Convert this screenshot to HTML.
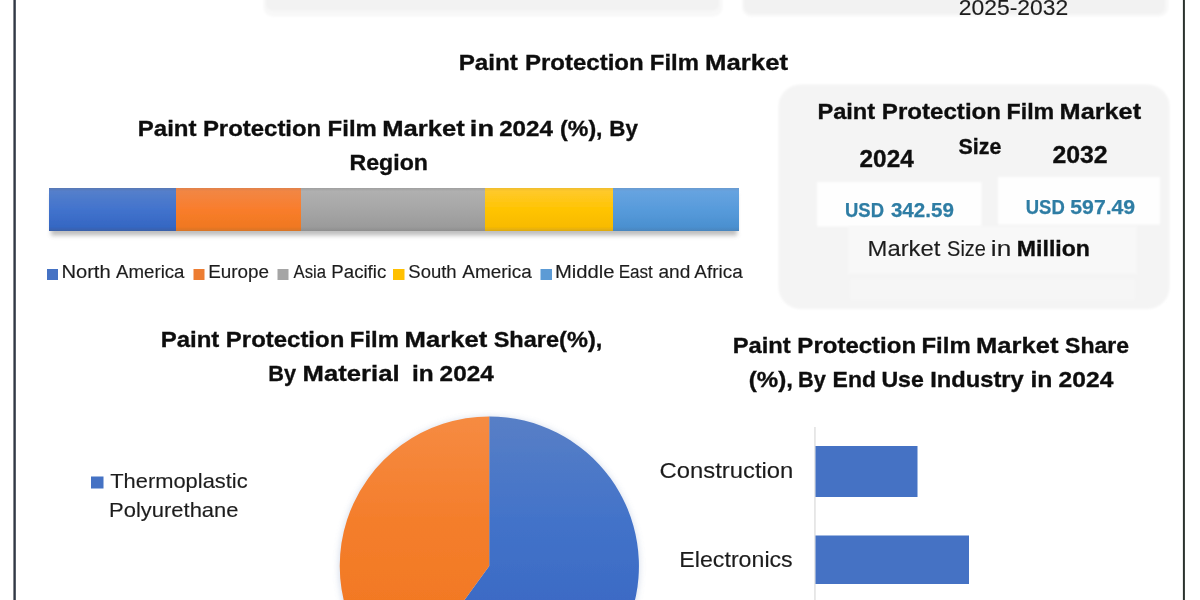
<!DOCTYPE html>
<html>
<head>
<meta charset="utf-8">
<title>Paint Protection Film Market</title>
<style>
html,body{margin:0;padding:0;background:#fff;}
body{width:1200px;height:600px;overflow:hidden;font-family:"Liberation Sans",sans-serif;}
svg{display:block;}
text{font-family:"Liberation Sans",sans-serif;}
.b{font-weight:bold;fill:#111;stroke:#111;stroke-width:0.35px;}
.r{font-weight:normal;fill:#1e1e1e;stroke:#1e1e1e;stroke-width:0.15px;}
.u{font-weight:bold;fill:#2e7da4;stroke:#2e7da4;stroke-width:0.25px;}
</style>
</head>
<body>
<svg width="1200" height="600" viewBox="0 0 1200 600">
  <defs>
    <filter id="sh" x="-5%" y="-20%" width="110%" height="160%">
      <feGaussianBlur stdDeviation="2.2"/>
    </filter>
    <filter id="sh2" x="-10%" y="-10%" width="120%" height="120%">
      <feGaussianBlur stdDeviation="3"/>
    </filter>
    <filter id="gl" x="0" y="0" width="1200" height="600" filterUnits="userSpaceOnUse">
      <feGaussianBlur stdDeviation="0.4"/>
    </filter>
    <filter id="soft" x="-5%" y="-5%" width="110%" height="110%">
      <feGaussianBlur stdDeviation="1.2"/>
    </filter>
    <linearGradient id="gBlue" x1="0" y1="0" x2="0" y2="1">
      <stop offset="0" stop-color="#5a78b4"/><stop offset="0.08" stop-color="#547fcb"/><stop offset="0.5" stop-color="#4273cd"/><stop offset="0.9" stop-color="#3567c3"/><stop offset="1" stop-color="#3a60a8"/>
    </linearGradient>
    <linearGradient id="gOrange" x1="0" y1="0" x2="0" y2="1">
      <stop offset="0" stop-color="#e0824c"/><stop offset="0.08" stop-color="#f28643"/><stop offset="0.5" stop-color="#f97d2c"/><stop offset="0.9" stop-color="#f07820"/><stop offset="1" stop-color="#d67428"/>
    </linearGradient>
    <linearGradient id="gGray" x1="0" y1="0" x2="0" y2="1">
      <stop offset="0" stop-color="#a0a0a0"/><stop offset="0.08" stop-color="#b0b0b0"/><stop offset="0.5" stop-color="#a6a6a6"/><stop offset="0.9" stop-color="#9b9b9b"/><stop offset="1" stop-color="#8e8e8e"/>
    </linearGradient>
    <linearGradient id="gYellow" x1="0" y1="0" x2="0" y2="1">
      <stop offset="0" stop-color="#f0bd30"/><stop offset="0.08" stop-color="#ffc92a"/><stop offset="0.5" stop-color="#ffc400"/><stop offset="0.9" stop-color="#f8bb00"/><stop offset="1" stop-color="#dca910"/>
    </linearGradient>
    <linearGradient id="gLBlue" x1="0" y1="0" x2="0" y2="1">
      <stop offset="0" stop-color="#6a9bd0"/><stop offset="0.08" stop-color="#66a3e0"/><stop offset="0.5" stop-color="#579bdb"/><stop offset="0.9" stop-color="#4b90d0"/><stop offset="1" stop-color="#4a85bd"/>
    </linearGradient>
    <linearGradient id="pBlue" gradientUnits="userSpaceOnUse" x1="0" y1="416" x2="0" y2="620">
      <stop offset="0" stop-color="#587fc6"/><stop offset="0.5" stop-color="#4373c9"/><stop offset="1" stop-color="#3a69c4"/>
    </linearGradient>
    <linearGradient id="pOrange" gradientUnits="userSpaceOnUse" x1="0" y1="416" x2="0" y2="620">
      <stop offset="0" stop-color="#f68b42"/><stop offset="0.5" stop-color="#f47e2c"/><stop offset="1" stop-color="#f27822"/>
    </linearGradient>
    <clipPath id="page"><rect x="0" y="0" width="1200" height="600"/></clipPath>
  </defs>

  <rect x="0" y="0" width="1200" height="600" fill="#ffffff"/>
  <g filter="url(#gl)">

  <!-- frame borders -->
  <rect x="13.4" y="0" width="2.4" height="600" fill="#323944"/>
  <rect x="1182.9" y="0" width="2" height="600" fill="#2b302f"/>

  <!-- top cards (cut off) -->
  <g filter="url(#soft)">
    <rect x="263.5" y="-30" width="459" height="46.5" rx="9" fill="#f8f8f8"/>
    <rect x="266" y="-30" width="453" height="40.5" rx="6" fill="#f2f2f2"/>
    <rect x="742" y="-30" width="426.5" height="46.5" rx="9" fill="#f8f8f8"/>
    <rect x="744" y="-30" width="421" height="44" rx="7" fill="#f2f2f2"/>
  </g>

  <!-- main title -->

  <!-- right panel -->
  <g filter="url(#soft)">
    <rect x="778.5" y="84.5" width="391" height="224.5" rx="22" fill="#f4f4f4"/>
  </g>
  <rect x="817" y="182" width="164.5" height="44.5" fill="#fefefe" filter="url(#soft)"/>
  <rect x="998" y="177" width="162" height="47.5" fill="#fefefe" filter="url(#soft)"/>
  <rect x="848" y="226" width="289" height="48" fill="#f8f8f8" filter="url(#soft)"/>
  <rect x="850" y="279" width="285" height="21" fill="#f6f6f6" filter="url(#soft)"/>

  <!-- region chart title -->

  <!-- stacked bar -->
  <rect x="51" y="194" width="686" height="41.5" fill="#808080" opacity="0.5" filter="url(#sh)"/>
  <rect x="49" y="188" width="127" height="43" fill="url(#gBlue)"/>
  <rect x="176" y="188" width="125" height="43" fill="url(#gOrange)"/>
  <rect x="301" y="188" width="184" height="43" fill="url(#gGray)"/>
  <rect x="485" y="188" width="128" height="43" fill="url(#gYellow)"/>
  <rect x="613" y="188" width="126" height="43" fill="url(#gLBlue)"/>

  <!-- region legend -->
  <rect x="47" y="269" width="11" height="11" fill="#4472c4"/>
  <rect x="193.5" y="269" width="11" height="11" fill="#ed7d31"/>
  <rect x="277.5" y="269" width="11" height="11" fill="#a5a5a5"/>
  <rect x="393" y="269" width="11.5" height="11" fill="#ffc000"/>
  <rect x="540.5" y="269" width="11.5" height="11" fill="#5b9bd5"/>

  <!-- pie chart title -->

  <!-- pie -->
  <circle cx="489.2" cy="567" r="150.5" fill="#8aa0c8" opacity="0.35" filter="url(#sh2)"/>
  <path d="M489.2 566 L489.2 416.5 A149.6 149.6 0 1 1 401.27 687.03 Z" fill="url(#pBlue)"/>
  <path d="M489.2 566 L401.27 687.03 A149.6 149.6 0 0 1 489.2 416.5 Z" fill="url(#pOrange)"/>

  <!-- pie legend -->
  <rect x="91" y="476.5" width="12.5" height="12" fill="#4472c4"/>

  <!-- end-use bar chart title -->

  <!-- end-use bars -->
  <rect x="814.4" y="427" width="1.1" height="173" fill="#d6d6d6"/>
  <rect x="815.5" y="446" width="102" height="51" fill="#4472c4"/>
  <rect x="815.5" y="535.5" width="153.5" height="48.5" fill="#4472c4"/>
  <!-- text (per-word placement) -->
  <text class="r" x="958.87" y="15.00" font-size="22" textLength="109.39" lengthAdjust="spacingAndGlyphs">2025-2032</text>
  <text class="b" x="458.67" y="69.60" font-size="22.6" textLength="59.22" lengthAdjust="spacingAndGlyphs">Paint</text>
  <text class="b" x="524.91" y="69.60" font-size="22.6" textLength="118.77" lengthAdjust="spacingAndGlyphs">Protection</text>
  <text class="b" x="649.86" y="69.60" font-size="22.6" textLength="49.11" lengthAdjust="spacingAndGlyphs">Film</text>
  <text class="b" x="705.14" y="69.60" font-size="22.6" textLength="82.87" lengthAdjust="spacingAndGlyphs">Market</text>
  <text class="b" x="817.42" y="119.00" font-size="22.6" textLength="57.77" lengthAdjust="spacingAndGlyphs">Paint</text>
  <text class="b" x="881.87" y="119.00" font-size="22.6" textLength="119.19" lengthAdjust="spacingAndGlyphs">Protection</text>
  <text class="b" x="1006.50" y="119.00" font-size="22.6" textLength="47.73" lengthAdjust="spacingAndGlyphs">Film</text>
  <text class="b" x="1059.62" y="119.00" font-size="22.6" textLength="81.49" lengthAdjust="spacingAndGlyphs">Market</text>
  <text class="b" x="958.53" y="154.30" font-size="22.6" textLength="42.78" lengthAdjust="spacingAndGlyphs">Size</text>
  <text class="b" x="859.60" y="166.70" font-size="23.6" textLength="54.11" lengthAdjust="spacingAndGlyphs">2024</text>
  <text class="b" x="1052.44" y="163.00" font-size="23.6" textLength="55.21" lengthAdjust="spacingAndGlyphs">2032</text>
  <text class="u" x="845.02" y="216.80" font-size="19.6" textLength="38.96" lengthAdjust="spacingAndGlyphs">USD</text>
  <text class="u" x="890.93" y="216.80" font-size="19.6" textLength="62.91" lengthAdjust="spacingAndGlyphs">342.59</text>
  <text class="u" x="1025.78" y="213.50" font-size="19.6" textLength="39.02" lengthAdjust="spacingAndGlyphs">USD</text>
  <text class="u" x="1070.29" y="213.50" font-size="19.6" textLength="64.89" lengthAdjust="spacingAndGlyphs">597.49</text>
  <text class="r" x="867.58" y="256.00" font-size="21.5" textLength="72.82" lengthAdjust="spacingAndGlyphs">Market</text>
  <text class="r" x="947.07" y="256.00" font-size="21.5" textLength="38.84" lengthAdjust="spacingAndGlyphs">Size</text>
  <text class="r" x="990.89" y="256.00" font-size="21.5" textLength="20.42" lengthAdjust="spacingAndGlyphs">in</text>
  <text class="b" x="1016.88" y="256.00" font-size="21.5" textLength="73.08" lengthAdjust="spacingAndGlyphs">Million</text>
  <text class="b" x="137.80" y="136.40" font-size="22.6" textLength="58.74" lengthAdjust="spacingAndGlyphs">Paint</text>
  <text class="b" x="202.92" y="136.40" font-size="22.6" textLength="118.34" lengthAdjust="spacingAndGlyphs">Protection</text>
  <text class="b" x="327.62" y="136.40" font-size="22.6" textLength="49.22" lengthAdjust="spacingAndGlyphs">Film</text>
  <text class="b" x="382.25" y="136.40" font-size="22.6" textLength="82.44" lengthAdjust="spacingAndGlyphs">Market</text>
  <text class="b" x="469.89" y="136.40" font-size="22.6" textLength="24.24" lengthAdjust="spacingAndGlyphs">in</text>
  <text class="b" x="499.16" y="136.40" font-size="22.6" textLength="53.85" lengthAdjust="spacingAndGlyphs">2024</text>
  <text class="b" x="560.14" y="136.40" font-size="22.6" textLength="42.41" lengthAdjust="spacingAndGlyphs">(%),</text>
  <text class="b" x="609.29" y="136.40" font-size="22.6" textLength="28.56" lengthAdjust="spacingAndGlyphs">By</text>
  <text class="b" x="349.54" y="170.40" font-size="22.6" textLength="78.46" lengthAdjust="spacingAndGlyphs">Region</text>
  <text class="r" x="61.42" y="278.40" font-size="18" textLength="49.24" lengthAdjust="spacingAndGlyphs">North</text>
  <text class="r" x="116.04" y="278.40" font-size="18" textLength="68.46" lengthAdjust="spacingAndGlyphs">America</text>
  <text class="r" x="208.15" y="278.40" font-size="18" textLength="60.92" lengthAdjust="spacingAndGlyphs">Europe</text>
  <text class="r" x="293.50" y="278.40" font-size="18" textLength="32.50" lengthAdjust="spacingAndGlyphs">Asia</text>
  <text class="r" x="331.38" y="278.40" font-size="18" textLength="54.86" lengthAdjust="spacingAndGlyphs">Pacific</text>
  <text class="r" x="408.32" y="278.40" font-size="18" textLength="48.31" lengthAdjust="spacingAndGlyphs">South</text>
  <text class="r" x="462.36" y="278.40" font-size="18" textLength="69.34" lengthAdjust="spacingAndGlyphs">America</text>
  <text class="r" x="554.96" y="278.40" font-size="18" textLength="59.63" lengthAdjust="spacingAndGlyphs">Middle</text>
  <text class="r" x="618.66" y="278.40" font-size="18" textLength="34.20" lengthAdjust="spacingAndGlyphs">East</text>
  <text class="r" x="658.47" y="278.40" font-size="18" textLength="31.82" lengthAdjust="spacingAndGlyphs">and</text>
  <text class="r" x="694.36" y="278.40" font-size="18" textLength="48.30" lengthAdjust="spacingAndGlyphs">Africa</text>
  <text class="b" x="160.67" y="346.50" font-size="22.6" textLength="58.66" lengthAdjust="spacingAndGlyphs">Paint</text>
  <text class="b" x="225.86" y="346.50" font-size="22.6" textLength="118.44" lengthAdjust="spacingAndGlyphs">Protection</text>
  <text class="b" x="349.87" y="346.50" font-size="22.6" textLength="49.09" lengthAdjust="spacingAndGlyphs">Film</text>
  <text class="b" x="404.57" y="346.50" font-size="22.6" textLength="82.66" lengthAdjust="spacingAndGlyphs">Market</text>
  <text class="b" x="493.66" y="346.50" font-size="22.6" textLength="108.62" lengthAdjust="spacingAndGlyphs">Share(%),</text>
  <text class="b" x="268.29" y="380.60" font-size="22.6" textLength="27.76" lengthAdjust="spacingAndGlyphs">By</text>
  <text class="b" x="302.61" y="380.60" font-size="22.6" textLength="97.02" lengthAdjust="spacingAndGlyphs">Material</text>
  <text class="b" x="411.91" y="380.60" font-size="22.6" textLength="21.67" lengthAdjust="spacingAndGlyphs">in</text>
  <text class="b" x="439.63" y="380.60" font-size="22.6" textLength="54.09" lengthAdjust="spacingAndGlyphs">2024</text>
  <text class="r" x="110.28" y="488.40" font-size="20.2" textLength="137.35" lengthAdjust="spacingAndGlyphs">Thermoplastic</text>
  <text class="r" x="109.07" y="517.30" font-size="20.2" textLength="129.44" lengthAdjust="spacingAndGlyphs">Polyurethane</text>
  <text class="b" x="732.78" y="353.00" font-size="22.6" textLength="57.99" lengthAdjust="spacingAndGlyphs">Paint</text>
  <text class="b" x="797.37" y="353.00" font-size="22.6" textLength="118.78" lengthAdjust="spacingAndGlyphs">Protection</text>
  <text class="b" x="921.51" y="353.00" font-size="22.6" textLength="49.21" lengthAdjust="spacingAndGlyphs">Film</text>
  <text class="b" x="976.08" y="353.00" font-size="22.6" textLength="82.40" lengthAdjust="spacingAndGlyphs">Market</text>
  <text class="b" x="1065.10" y="353.00" font-size="22.6" textLength="63.96" lengthAdjust="spacingAndGlyphs">Share</text>
  <text class="b" x="748.77" y="386.60" font-size="22.6" textLength="44.12" lengthAdjust="spacingAndGlyphs">(%),</text>
  <text class="b" x="797.94" y="386.60" font-size="22.6" textLength="27.82" lengthAdjust="spacingAndGlyphs">By</text>
  <text class="b" x="832.56" y="386.60" font-size="22.6" textLength="43.45" lengthAdjust="spacingAndGlyphs">End</text>
  <text class="b" x="881.42" y="386.60" font-size="22.6" textLength="42.42" lengthAdjust="spacingAndGlyphs">Use</text>
  <text class="b" x="930.26" y="386.60" font-size="22.6" textLength="93.55" lengthAdjust="spacingAndGlyphs">Industry</text>
  <text class="b" x="1030.41" y="386.60" font-size="22.6" textLength="21.98" lengthAdjust="spacingAndGlyphs">in</text>
  <text class="b" x="1058.60" y="386.60" font-size="22.6" textLength="54.72" lengthAdjust="spacingAndGlyphs">2024</text>
  <text class="r" x="659.61" y="478.00" font-size="22" textLength="133.77" lengthAdjust="spacingAndGlyphs">Construction</text>
  <text class="r" x="679.39" y="567.20" font-size="21.5" textLength="113.34" lengthAdjust="spacingAndGlyphs">Electronics</text>
  </g>
</svg>
</body>
</html>
